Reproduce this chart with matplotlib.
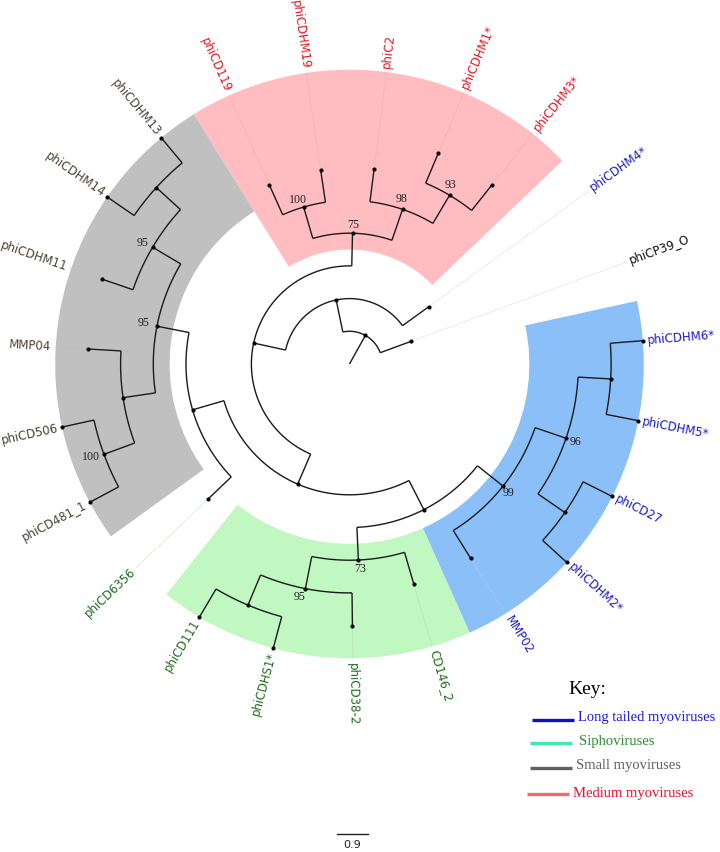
import numpy as np
import matplotlib
matplotlib.use('Agg')
import matplotlib.pyplot as plt
from matplotlib.patches import Wedge

# ------------------------- data -------------------------
# tips in layout order (counter-clockwise starting at phiCP39_O)
tip_names = ['phiCP39_O', 'phiCDHM4*', 'phiCDHM3*', 'phiCDHM1*', 'phiC2', 'phiCDHM19',
             'phiCD119', 'phiCDHM13', 'phiCDHM14', 'phiCDHM11', 'MMP04', 'phiCD506',
             'phiCD481_1', 'phiCD6356', 'phiCD111', 'phiCDHS1*', 'phiCD38-2', 'CD146_2',
             'MMP02', 'phiCDHM2*', 'phiCD27', 'phiCDHM5*', 'phiCDHM6*']
tip_parent = ['U', 'V', 'N93', 'N93', 'N98', 'N100', 'N100', 'D', 'D', 'G95b', 'GL',
              'E100', 'E100', 'X', 'A', 'A', 'S95', 'S73', 'L99', 'B', 'B', 'C', 'C']
tip_depth = [2, 3, 7, 7, 6, 6, 6, 9, 9, 8, 8, 9, 9, 6, 9, 9, 8, 7, 7, 9, 9, 9, 9]
tip_group = ['none', 'long', 'medium', 'medium', 'medium', 'medium', 'medium',
             'small', 'small', 'small', 'small', 'small', 'small', 'sipho',
             'sipho', 'sipho', 'sipho', 'sipho', 'long', 'long', 'long', 'long', 'long']

node_names = ['U', 'V', 'W', 'R75', 'N98', 'N93', 'N100', 'Y', 'X', 'G95a', 'G95b', 'D',
              'GL', 'E100', 'Z', 'S73', 'S95', 'A', 'L99', 'N96', 'B', 'C']
node_parent = [None, 'U', 'V', 'W', 'R75', 'N98', 'R75', 'W', 'Y', 'X', 'G95a', 'G95b',
               'G95a', 'GL', 'Y', 'Z', 'S73', 'S95', 'Z', 'L99', 'N96', 'N96']
node_depth = [1, 2, 3, 4, 5, 6, 5, 4, 5, 6, 7, 8, 7, 8, 5, 6, 7, 8, 6, 7, 8, 8]
node_support = [None, None, None, 75, 98, 93, 100, None, None, 95, 95, None,
                None, 100, None, 73, 95, None, 99, 96, None, None]

clade_roots = ['R75', 'G95a', 'S73', 'L99']
clade_groups = ['medium', 'small', 'sipho', 'long']

legend_labels = ['Long tailed myoviruses', 'Siphoviruses', 'Small myoviruses', 'Medium myoviruses']
legend_groups = ['long', 'sipho', 'small', 'medium']
scale_value = 0.9

# ------------------------- style -------------------------
W_PX, H_PX = 720, 852
CX, CY = 349.5, 852 - 364.0
UNIT = 32.7           # px per branch unit
START = 20.2          # angle of first tip
LABEL_R = 298.5

wedge_col = {'medium': '#ffbdc1', 'small': '#c0c0c0', 'sipho': '#c1f7c1', 'long': '#8bbff8'}
label_col = {'medium': '#e8141c', 'small': '#4a4036', 'sipho': '#1c6e1c', 'long': '#1a1ad0',
             'none': '#111111'}
leader_col = {'medium': '#f4a4a4', 'small': '#c4bcb0', 'sipho': '#acd4ac', 'long': '#c8c8f4',
              'none': '#d0d0d0'}
legend_line_col = {'long': '#1010c8', 'sipho': '#40e8b0', 'small': '#606060', 'medium': '#f06a6a'}
legend_text_col = {'long': '#1a1ae8', 'sipho': '#2e8b2e', 'small': '#606060', 'medium': '#e8102a'}

support_off = {'R75': (1, 8), 'N98': (-1, 10), 'N93': (1, 10), 'N100': (-6, 7),
               'G95a': (-13, 3), 'G95b': (-10, 4), 'E100': (-13, -3),
               'S73': (2, -9), 'S95': (-6, -8), 'L99': (5, -7), 'N96': (9, -4)}

# ------------------------- layout -------------------------
n_tips = len(tip_names)
step = 360.0 / n_tips
angle = {}
depth = {}
parent = {}
for i, nm in enumerate(tip_names):
    angle[nm] = START + i * step
    depth[nm] = tip_depth[i]
    parent[nm] = tip_parent[i]
for nm, p, d in zip(node_names, node_parent, node_depth):
    depth[nm] = d
    parent[nm] = p

children = {nm: [] for nm in node_names}
for nm, p in parent.items():
    if p is not None:
        children[p].append(nm)


def get_angle(nm):
    if nm in angle:
        return angle[nm]
    ch = [get_angle(c) for c in children[nm]]
    angle[nm] = 0.5 * (min(ch) + max(ch))
    return angle[nm]


for nm in node_names:
    get_angle(nm)


def tips_under(nm):
    if nm not in children:
        return [nm]
    out = []
    for c in children[nm]:
        out += tips_under(c)
    return out


def xy(r, a):
    t = np.deg2rad(a)
    return CX + r * np.cos(t), CY + r * np.sin(t)


fig = plt.figure(figsize=(W_PX / 100, H_PX / 100), dpi=100)
ax = fig.add_axes([0, 0, 1, 1])
ax.set_xlim(0, W_PX)
ax.set_ylim(0, H_PX)
ax.axis('off')

max_depth = max(tip_depth)
# clade highlights
for cr, g in zip(clade_roots, clade_groups):
    ts = tips_under(cr)
    angs = [angle[t] for t in ts]
    a1 = min(angs) - step / 2
    a2 = max(angs) + step / 2
    r_in = (depth[cr] - 0.5) * UNIT
    r_out = max_depth * UNIT
    ax.add_patch(Wedge((CX, CY), r_out, a1, a2, width=r_out - r_in,
                       facecolor=wedge_col[g], edgecolor='none', zorder=0))

BR = dict(color='#1a1a1a', lw=1.0, zorder=3, solid_capstyle='butt')
# radial branches
for nm in list(parent.keys()):
    p = parent[nm]
    r1 = depth[nm] * UNIT
    r0 = depth[p] * UNIT if p is not None else 0.0
    x0, y0 = xy(r0, angle[nm])
    x1, y1 = xy(r1, angle[nm])
    ax.plot([x0, x1], [y0, y1], **BR)
# arcs
for nm in node_names:
    ch = [angle[c] for c in children[nm]]
    a = np.linspace(min(ch), max(ch), 120)
    r = depth[nm] * UNIT
    x, y = xy(r, a)
    ax.plot(x, y, **BR)
# dots
allnodes = list(parent.keys())
px = [xy(depth[n] * UNIT, angle[n])[0] for n in allnodes]
py = [xy(depth[n] * UNIT, angle[n])[1] for n in allnodes]
ax.scatter(px, py, s=9, color='black', zorder=4, linewidths=0)

# leader lines + labels
for i, nm in enumerate(tip_names):
    g = tip_group[i]
    a = angle[nm]
    r = depth[nm] * UNIT
    if r < LABEL_R - 8:
        x0, y0 = xy(r + 2, a)
        x1, y1 = xy(LABEL_R - 3, a)
        ax.plot([x0, x1], [y0, y1], color=leader_col[g], lw=0.6, ls=(0, (1, 1.2)), zorder=2)
    aa = a % 360
    if 90 < aa < 270:
        rot = aa - 180
        ha = 'right'
    else:
        rot = aa if aa <= 90 else aa - 360
        ha = 'left'
    tx, ty = xy(LABEL_R, a)
    ax.text(tx, ty, nm, rotation=rot, rotation_mode='anchor', ha=ha, va='center',
            fontsize=8.5, family='DejaVu Sans', color=label_col[g], zorder=5)

# support values
for nm, s in zip(node_names, node_support):
    if s is None:
        continue
    x, y = xy(depth[nm] * UNIT, angle[nm])
    dx, dy = support_off[nm]
    ax.text(x + dx, y + dy, str(s), ha='center', va='center', fontsize=8.6,
            family='Liberation Serif', color='#222222', zorder=6)

# legend (key)
ax.text(587, H_PX - 690, 'Key:', ha='center', va='center', fontsize=14,
        family='Liberation Serif', color='black')
leg_y_line = [720, 743, 768, 794]
leg_y_text = [718, 742, 765, 793]
leg_x0 = [532, 530, 530, 527]
leg_x_text = [578, 579, 576, 573]
for lab, g, yl, yt, x0, xt in zip(legend_labels, legend_groups, leg_y_line, leg_y_text, leg_x0, leg_x_text):
    ax.plot([x0, x0 + 42], [H_PX - yl, H_PX - yl], color=legend_line_col[g], lw=2.4,
            solid_capstyle='butt')
    ax.text(xt, H_PX - yt, lab, ha='left', va='center', fontsize=10.5,
            family='Liberation Serif', color=legend_text_col[g])

# scale bar
sb_len = scale_value * UNIT / 0.95
ax.plot([352.5 - sb_len / 2, 352.5 + sb_len / 2], [H_PX - 834, H_PX - 834], color='#222222', lw=1.0)
ax.text(352.5, H_PX - 845, str(scale_value), ha='center', va='center', fontsize=8,
        family='DejaVu Sans', color='#222222')

fig.savefig('out.png', dpi=100)
